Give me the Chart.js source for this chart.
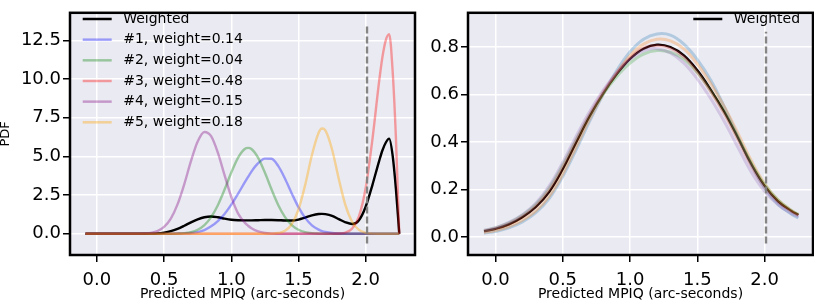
<!DOCTYPE html>
<html><head><meta charset="utf-8">
<script src="https://cdn.jsdelivr.net/npm/chart.js@4/dist/chart.umd.min.js"></script>
<style>
html,body{margin:0;padding:0;background:#fff;}
#wrap{position:relative;width:814px;height:303px;overflow:hidden;}
canvas{position:absolute;top:0;}
#cL{left:0;} #cR{left:420px;}
</style></head><body>
<div id="wrap"><canvas id="cL" width="420" height="303"></canvas><canvas id="cR" width="394" height="303"></canvas></div>
<script>
// ---------- data: left panel ----------
const xsL = [-0.085, 0.0, 0.1, 0.2, 0.3, 0.35, 0.4, 0.45, 0.5, 0.55, 0.6, 0.65, 0.7, 0.75, 0.8, 0.85, 0.9, 0.95, 1.0, 1.05, 1.1, 1.125, 1.15, 1.2, 1.25, 1.3, 1.35, 1.4, 1.45, 1.5, 1.55, 1.6, 1.65, 1.675, 1.7, 1.75, 1.8, 1.85, 1.9, 1.95, 2.0, 2.05, 2.1, 2.125, 2.15, 2.175, 2.2, 2.225, 2.25];
const weightedL = [0, 0, 0, 0, 0, 0, 0.01, 0.03, 0.08, 0.17, 0.32, 0.52, 0.74, 0.93, 1.07, 1.12, 1.07, 0.98, 0.91, 0.88, 0.87, 0.87, 0.87, 0.88, 0.89, 0.89, 0.88, 0.86, 0.86, 0.92, 1.05, 1.19, 1.28, 1.29, 1.27, 1.16, 0.95, 0.74, 0.63, 0.88, 1.75, 3.15, 4.7, 5.4, 5.9, 6.15, 5.1, 2.9, 0];
const comp1 = [0, 0, 0, 0, 0, 0, 0, 0, 0.002, 0.006, 0.016, 0.03, 0.05, 0.11, 0.24, 0.48, 0.82, 1.28, 1.88, 2.58, 3.32, 3.68, 4.02, 4.56, 4.86, 4.85, 4.37, 3.56, 2.61, 1.72, 1.03, 0.55, 0.27, 0.18, 0.12, 0.05, 0.02, 0.007, 0.002, 0, 0, 0, 0, 0, 0, 0, 0, 0, 0];
const comp2 = [0, 0, 0, 0, 0, 0, 0, 0, 0.001, 0.004, 0.014, 0.042, 0.11, 0.26, 0.56, 1.08, 1.85, 2.86, 3.96, 4.91, 5.48, 5.55, 5.48, 4.91, 3.96, 2.86, 1.85, 1.08, 0.56, 0.26, 0.11, 0.042, 0.014, 0.008, 0.004, 0.001, 0, 0, 0, 0, 0, 0, 0, 0, 0, 0, 0, 0, 0];
const comp3 = [0, 0, 0, 0, 0, 0, 0, 0, 0, 0, 0, 0, 0, 0, 0, 0, 0, 0, 0, 0, 0, 0, 0, 0, 0, 0, 0, 0, 0, 0, 0, 0, 0, 0, 0, 0.002, 0.015, 0.08, 0.34, 1.13, 2.96, 6.09, 9.84, 11.44, 12.52, 12.9, 10.6, 6.2, 0];
const comp4 = [0, 0, 0, 0, 0.004, 0.017, 0.057, 0.17, 0.44, 0.98, 1.9, 3.2, 4.69, 5.96, 6.58, 6.31, 5.25, 3.79, 2.38, 1.32, 0.72, 0.52, 0.36, 0.15, 0.05, 0.012, 0.002, 0, 0, 0, 0, 0, 0, 0, 0, 0, 0, 0, 0, 0, 0, 0, 0, 0, 0, 0, 0, 0, 0];
const comp5 = [0, 0, 0, 0, 0, 0, 0, 0, 0, 0, 0, 0, 0, 0, 0, 0, 0, 0, 0, 0, 0, 0, 0, 0, 0, 0.01, 0.049, 0.19, 0.62, 1.57, 3.16, 5.09, 6.53, 6.8, 6.68, 5.45, 3.54, 1.83, 0.76, 0.25, 0.065, 0.014, 0.003, 0, 0, 0, 0, 0, 0];
const weights = [0.14, 0.04, 0.48, 0.15, 0.18];

// ---------- data: right panel ----------
const xsR = [-0.085, 0.0, 0.1, 0.2, 0.3, 0.4, 0.5, 0.6, 0.7, 0.8, 0.9, 1.0, 1.1, 1.2, 1.3, 1.4, 1.5, 1.6, 1.7, 1.8, 1.9, 2.0, 2.1, 2.2, 2.25];
const weightedR = [0.024, 0.034, 0.053, 0.083, 0.126, 0.19, 0.285, 0.398, 0.508, 0.604, 0.685, 0.750, 0.793, 0.810, 0.800, 0.765, 0.702, 0.620, 0.527, 0.420, 0.308, 0.215, 0.150, 0.109, 0.093];
const rComp1 = [0.016, 0.023, 0.038, 0.063, 0.102, 0.163, 0.255, 0.368, 0.488, 0.600, 0.700, 0.780, 0.833, 0.855, 0.850, 0.812, 0.747, 0.660, 0.548, 0.425, 0.305, 0.205, 0.137, 0.096, 0.080];
const rComp2 = [0.019, 0.027, 0.044, 0.071, 0.110, 0.172, 0.265, 0.380, 0.497, 0.602, 0.690, 0.763, 0.812, 0.833, 0.826, 0.792, 0.728, 0.645, 0.548, 0.438, 0.322, 0.224, 0.155, 0.111, 0.094];
const rComp3 = [0.027, 0.038, 0.059, 0.091, 0.137, 0.207, 0.303, 0.411, 0.514, 0.602, 0.675, 0.732, 0.770, 0.785, 0.778, 0.748, 0.691, 0.615, 0.526, 0.420, 0.312, 0.220, 0.155, 0.112, 0.095];
const rComp4 = [0.025, 0.035, 0.055, 0.086, 0.130, 0.197, 0.294, 0.407, 0.516, 0.610, 0.690, 0.753, 0.795, 0.806, 0.795, 0.758, 0.694, 0.612, 0.519, 0.411, 0.300, 0.210, 0.147, 0.107, 0.091];
const rComp5 = [0.028, 0.039, 0.061, 0.094, 0.142, 0.215, 0.314, 0.424, 0.528, 0.617, 0.692, 0.749, 0.784, 0.793, 0.775, 0.732, 0.665, 0.582, 0.486, 0.379, 0.274, 0.192, 0.135, 0.098, 0.085];

// ---------- ticks / reference line ----------
const xTicks = [0, 0.5, 1.0, 1.5, 2.0];
const yTicksL = [0, 2.5, 5, 7.5, 10, 12.5];
const yTicksR = [0, 0.2, 0.4, 0.6, 0.8];
const cutX = 2.01;
const cutSpanL = [-0.63, 13.55];
const cutSpanR = [-0.028, 0.864];
const xLabel = 'Predicted MPIQ (arc-seconds)';
const yLabelL = 'PDF';

const FONT = "'DejaVu Sans', sans-serif";
const pts = (xs, ys) => xs.map((x, i) => ({x: x, y: ys[i]}));

const colL = ['rgba(0,0,255,0.35)', 'rgba(0,128,0,0.35)', 'rgba(255,0,0,0.35)', 'rgba(128,0,128,0.35)', 'rgba(255,165,0,0.38)'];
const colR = ['rgba(31,119,180,0.28)', 'rgba(255,127,14,0.28)', 'rgba(44,160,44,0.28)', 'rgba(214,39,40,0.28)', 'rgba(148,103,189,0.28)'];

function makeScales(xmin, xmax, ymin, ymax, yTicks, yW, dec) {
  return {
    x: {
      type: 'linear', min: xmin, max: xmax,
      afterBuildTicks: s => { s.ticks = xTicks.map(v => ({value: v})); },
      afterFit: s => { s.height = 48; },
      grid: {color: '#ffffff', lineWidth: 1.5, tickColor: '#000', tickLength: 7, tickWidth: 1.5, drawTicks: true},
      border: {display: false},
      ticks: {color: '#000', font: {family: FONT, size: 18}, padding: 8, maxRotation: 0, autoSkip: false,
              callback: v => Number(v).toFixed(1)}
    },
    y: {
      type: 'linear', min: ymin, max: ymax,
      afterBuildTicks: s => { s.ticks = yTicks.map(v => ({value: v})); },
      afterFit: s => { s.width = yW; },
      grid: {color: '#ffffff', lineWidth: 1.5, tickColor: '#000', tickLength: 7, tickWidth: 1.5, drawTicks: true},
      border: {display: false},
      ticks: {color: '#000', font: {family: FONT, size: 18}, padding: 2, autoSkip: false,
              callback: v => Number(v).toFixed(dec)}
    }
  };
}

function framePlugin(legendItems, legendX, showYLabel) {
  return {
    id: 'frame',
    beforeDraw(chart) {
      const {ctx, chartArea: a} = chart;
      ctx.save();
      ctx.fillStyle = '#fff';
      ctx.fillRect(0, 0, chart.width, chart.height);
      ctx.fillStyle = '#EAEAF2';
      ctx.fillRect(a.left, a.top, a.right - a.left, a.bottom - a.top);
      ctx.restore();
    },
    afterDraw(chart) {
      const {ctx, chartArea: a} = chart;
      ctx.save();
      ctx.strokeStyle = '#000';
      ctx.lineWidth = 2.5;
      ctx.strokeRect(a.left, a.top, a.right - a.left, a.bottom - a.top);
      // legend
      ctx.font = '14px ' + FONT;
      ctx.textBaseline = 'middle';
      ctx.textAlign = 'left';
      legendItems.forEach((it, i) => {
        const y = 19 + i * 20.66;
        ctx.strokeStyle = it.color;
        ctx.lineWidth = it.lw;
        ctx.beginPath();
        ctx.moveTo(legendX, y);
        ctx.lineTo(legendX + 29, y);
        ctx.stroke();
        ctx.fillStyle = '#000';
        ctx.fillText(it.label, legendX + 40.5, y);
      });
      // axis labels
      ctx.fillStyle = '#000';
      ctx.font = '14px ' + FONT;
      ctx.textAlign = 'center';
      ctx.fillText(xLabel, (a.left + a.right) / 2, 294);
      if (showYLabel) {
        ctx.save();
        ctx.translate(6, (a.top + a.bottom) / 2);
        ctx.rotate(-Math.PI / 2);
        ctx.font = '13px ' + FONT;
        ctx.fillText(yLabelL, 0, 0);
        ctx.restore();
      }
      ctx.restore();
    }
  };
}

const lineDs = (label, data, color, lw, order, smooth) => Object.assign({
  label: label, data: data, borderColor: color, borderWidth: lw, pointRadius: 0,
  fill: false, order: order
}, smooth === 'bezier' ? {tension: 0.4} : {cubicInterpolationMode: 'monotone'});

// ---------- left chart ----------
const dsL = [lineDs('Weighted', pts(xsL, weightedL), '#000', 2.4, 10)];
[comp1, comp2, comp3, comp4, comp5].forEach((c, i) => {
  dsL.push(lineDs('#' + (i + 1) + ', weight=' + weights[i].toFixed(2), pts(xsL, c), colL[i], 2.4, 9 - i));
});
dsL.push({label: 'cut', data: [{x: cutX, y: cutSpanL[0]}, {x: cutX, y: cutSpanL[1]}], borderColor: 'rgba(128,128,128,0.95)',
  borderWidth: 2.4, borderDash: [7, 3], pointRadius: 0, fill: false, tension: 0, order: 0});

const legL = [{label: 'Weighted', color: '#000', lw: 2.5}].concat(
  weights.map((w, i) => ({label: '#' + (i + 1) + ', weight=' + w.toFixed(2), color: colL[i], lw: 2.5})));

new Chart(document.getElementById('cL'), {
  type: 'line',
  data: {datasets: dsL},
  options: {
    responsive: false, animation: false, devicePixelRatio: 1,
    layout: {padding: {left: 0, right: 5, top: 1, bottom: 0}},
    plugins: {legend: {display: false}, tooltip: {enabled: false}},
    scales: makeScales(-0.2, 2.367, -1.37, 14.28, yTicksL, 70, 1)
  },
  plugins: [framePlugin(legL, 82.7, true)]
});

// ---------- right chart ----------
const dsR = [lineDs('Weighted', pts(xsR, weightedR), '#000', 2.2, 10, 'bezier')];
[rComp1, rComp2, rComp3, rComp4, rComp5].forEach((c, i) => {
  dsR.push(lineDs('r' + (i + 1), pts(xsR, c), colR[i], 3, 9 - i, 'bezier'));
});
dsR.push({label: 'cut', data: [{x: cutX, y: cutSpanR[0]}, {x: cutX, y: cutSpanR[1]}], borderColor: 'rgba(128,128,128,0.95)',
  borderWidth: 2.4, borderDash: [7, 3], pointRadius: 0, fill: false, tension: 0, order: 0});

new Chart(document.getElementById('cR'), {
  type: 'line',
  data: {datasets: dsR},
  options: {
    responsive: false, animation: false, devicePixelRatio: 1,
    layout: {padding: {left: 0, right: 1, top: 1, bottom: 0}},
    plugins: {legend: {display: false}, tooltip: {enabled: false}},
    scales: makeScales(-0.204, 2.359, -0.076, 0.944, yTicksR, 48, 1)
  },
  plugins: [framePlugin([{label: 'Weighted', color: '#000', lw: 2.5}], 693.3 - 420, false)]
});
</script></body></html>
